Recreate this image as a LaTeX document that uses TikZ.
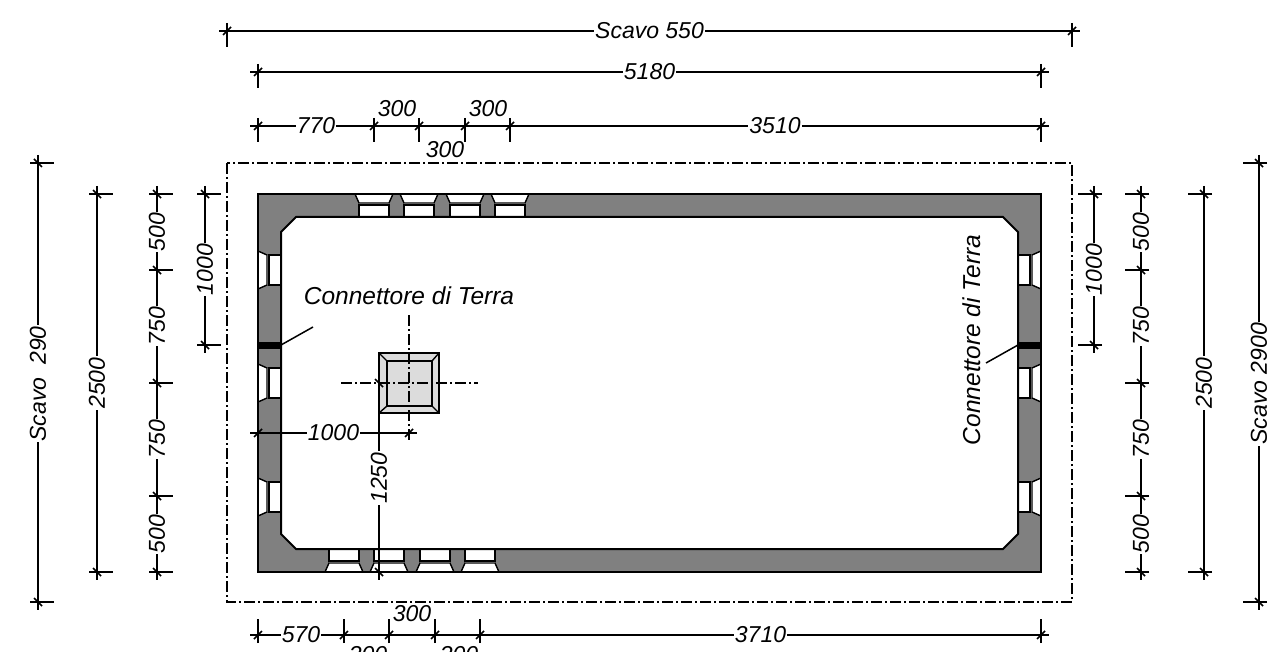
\documentclass[tikz,border=0pt]{standalone}
\usepackage{fontspec}
\setmainfont{Liberation Sans}
\definecolor{wall}{HTML}{808080}
\definecolor{pad}{HTML}{DCDCDC}
\tikzset{
  dimline/.style={draw=black,line width=1.5pt},
  outline/.style={draw=black,line width=2pt},
  heavy/.style={draw=black,line width=2.5pt},
  thinout/.style={draw=black,line width=1.4pt},
  centerline/.style={draw=black,line width=1.5pt,dash pattern=on 11pt off 3pt on 2pt off 3pt},
  lbl/.style={font=\fontsize{23}{25}\selectfont\itshape,inner sep=1.5pt},
  lblf/.style={lbl,fill=white,inner sep=1pt},
  conlbl/.style={font=\fontsize{24.5}{27}\selectfont\itshape,inner sep=0pt},
}
\newcommand\htick[3]{%
  \draw[dimline] (#1,#2-8*#3) -- (#1,#2+16*#3);
  \draw[dimline] (#1-4,#2+4) -- (#1+4,#2-4);}
\newcommand\vtick[3]{%
  \draw[dimline] (#2+8*#3,#1) -- (#2-16*#3,#1);
  \draw[dimline] (#2-4,#1-4) -- (#2+4,#1+4);}
\newcommand\hwin[3]{%
  \fill[white] (#1-4,#2) -- (#1+34,#2) -- (#1+30,#2+9*#3) -- (#1+30,#2+23*#3) -- (#1,#2+23*#3) -- (#1,#2+9*#3) -- cycle;
  \draw[thinout] (#1-4,#2) -- (#1,#2+9*#3) -- (#1+30,#2+9*#3) -- (#1+34,#2);
  \draw[thinout] (#1,#2+11*#3) rectangle (#1+30,#2+23*#3);}
\newcommand\vwin[3]{%
  \fill[white] (#2,#1-4) -- (#2,#1+34) -- (#2+9*#3,#1+30) -- (#2+23*#3,#1+30) -- (#2+23*#3,#1) -- (#2+9*#3,#1) -- cycle;
  \draw[thinout] (#2,#1-4) -- (#2+9*#3,#1) -- (#2+9*#3,#1+30) -- (#2,#1+34);
  \draw[thinout] (#2+11*#3,#1) rectangle (#2+23*#3,#1+30);}
\begin{document}
\begin{tikzpicture}[x=1pt,y=-1pt]
\clip (0,0) rectangle (1279,652);
\fill[white] (0,0) rectangle (1279,652);
% excavation outline
\draw[centerline] (227,163) rectangle (1072,602);
% walls
\fill[wall] (258,194) rectangle (1041,572);
\foreach \x in {359,404,450,495} {\hwin{\x}{194}{1}}
\foreach \x in {329,374,420,465} {\hwin{\x}{572}{-1}}
\foreach \y in {255,368,482} {\vwin{\y}{258}{1}\vwin{\y}{1041}{-1}}
\draw[outline] (258,194) rectangle (1041,572);
\draw[outline,fill=white] (296,217) -- (1003,217) -- (1018,232) -- (1018,534) -- (1003,549) -- (296,549) -- (281,534) -- (281,232) -- cycle;
\fill[black] (258,342) rectangle (281,349);
\fill[black] (1018,342) rectangle (1041,349);
% footing
\draw[heavy,fill=pad] (379,353) rectangle (439,413);
\draw[heavy] (387,361) rectangle (432,406);
\draw[thinout] (379,353) -- (387,361) (439,353) -- (432,361) (379,413) -- (387,406) (439,413) -- (432,406);
\coordinate (cvt) at (409,315); \coordinate (cvb) at (409,440);
\coordinate (chl) at (341,383); \coordinate (chr) at (478,383);
\draw[centerline] (cvt) -- (cvb);
\draw[centerline] (chl) -- (chr);
% horizontal dimensions
\coordinate (a1) at (219,31); \coordinate (a2) at (1080,31);
\draw[dimline] (a1) -- node[lblf,pos=.5] (n550) {Scavo 550} (a2);
\htick{227}{31}{1}\htick{1072}{31}{1}
\coordinate (b1) at (250,72); \coordinate (b2) at (1049,72);
\draw[dimline] (b1) -- node[lblf,pos=.5] (n5180) {5180} (b2);
\htick{258}{72}{1}\htick{1041}{72}{1}
\coordinate (c1) at (250,126); \coordinate (c2) at (1049,126);
\draw[dimline] (c1) -- (c2);
\node[lblf] (n770) at (316,126) {770};
\node[lblf] (n3510) at (775,126) {3510};
\foreach \x in {258,374,419,465,510,1041} {\htick{\x}{126}{1}}
\node[lbl] (t1) at (397,109) {300};
\node[lbl] (t2) at (488,109) {300};
\node[lbl] (t3) at (445,150) {300};
\coordinate (d1) at (250,635); \coordinate (d2) at (1049,635);
\draw[dimline] (d1) -- (d2);
\node[lblf] (n570) at (301,635) {570};
\node[lblf] (n3710) at (760.5,635) {3710};
\foreach \x in {258,344,389,435,480,1041} {\htick{\x}{635}{-1}}
\node[lbl] (b3) at (412,614) {300};
\node[lbl] (b4) at (368,655) {300};
\node[lbl] (b5) at (459,655) {300};
% vertical dimensions, left
\coordinate (e1) at (38,155); \coordinate (e2) at (38,610);
\draw[dimline] (e1) -- node[lblf,rotate=90,pos=.503] (s290) {Scavo\ \ 290} (e2);
\vtick{163}{38}{-1}\vtick{602}{38}{-1}
\coordinate (f1) at (97,186); \coordinate (f2) at (97,580);
\draw[dimline] (f1) -- node[lblf,rotate=90] (l2500) {2500} (f2);
\vtick{194}{97}{-1}\vtick{572}{97}{-1}
\coordinate (g1) at (157,186); \coordinate (g2) at (157,580);
\draw[dimline] (g1) -- (g2);
\foreach \y in {194,270,383,496,572} {\vtick{\y}{157}{-1}}
\node[lblf,rotate=90] (l500a) at (157,232) {500};
\node[lblf,rotate=90] (l750a) at (157,326) {750};
\node[lblf,rotate=90] (l750b) at (157,439) {750};
\node[lblf,rotate=90] (l500b) at (157,534) {500};
\coordinate (h1) at (205,186); \coordinate (h2) at (205,353);
\draw[dimline] (h1) -- node[lblf,rotate=90] (l1000) {1000} (h2);
\vtick{194}{205}{-1}\vtick{345}{205}{-1}
% vertical dimensions, right
\coordinate (i1) at (1094,186); \coordinate (i2) at (1094,353);
\draw[dimline] (i1) -- node[lblf,rotate=90] (r1000) {1000} (i2);
\vtick{194}{1094}{1}\vtick{345}{1094}{1}
\coordinate (j1) at (1141,186); \coordinate (j2) at (1141,580);
\draw[dimline] (j1) -- (j2);
\foreach \y in {194,270,383,496,572} {\vtick{\y}{1141}{1}}
\node[lblf,rotate=90] (r500a) at (1141,232) {500};
\node[lblf,rotate=90] (r750a) at (1141,326) {750};
\node[lblf,rotate=90] (r750b) at (1141,439) {750};
\node[lblf,rotate=90] (r500b) at (1141,534) {500};
\coordinate (k1) at (1204,186); \coordinate (k2) at (1204,580);
\draw[dimline] (k1) -- node[lblf,rotate=90] (r2500) {2500} (k2);
\vtick{194}{1204}{1}\vtick{572}{1204}{1}
\coordinate (m1) at (1259,155); \coordinate (m2) at (1259,610);
\draw[dimline] (m1) -- node[lblf,rotate=90,pos=.503] (s2900) {Scavo 2900} (m2);
\vtick{163}{1259}{1}\vtick{602}{1259}{1}
% inner dimensions
\coordinate (p1) at (250,433); \coordinate (p2) at (417,433);
\draw[dimline] (p1) -- node[lblf,pos=.5] (n1000) {1000} (p2);
\htick{258}{433}{0}\htick{409}{433}{0}
\coordinate (q1) at (379,375); \coordinate (q2) at (379,580);
\draw[dimline] (q1) -- (q2);
\node[lblf,rotate=90] (n1250) at (379,478) {1250};
\vtick{383}{379}{0}\vtick{572}{379}{0}
% connector labels
\node[conlbl] (ct1) at (409,296) {Connettore di Terra};
\node[conlbl,rotate=90] (ct2) at (972,340) {Connettore di Terra};
\coordinate (e3) at (313,327); \coordinate (e4) at (281,345);
\coordinate (e5) at (986,363); \coordinate (e6) at (1018,345);
\draw[dimline] (e3) -- (e4);
\draw[dimline] (e5) -- (e6);
\end{tikzpicture}
\end{document}
